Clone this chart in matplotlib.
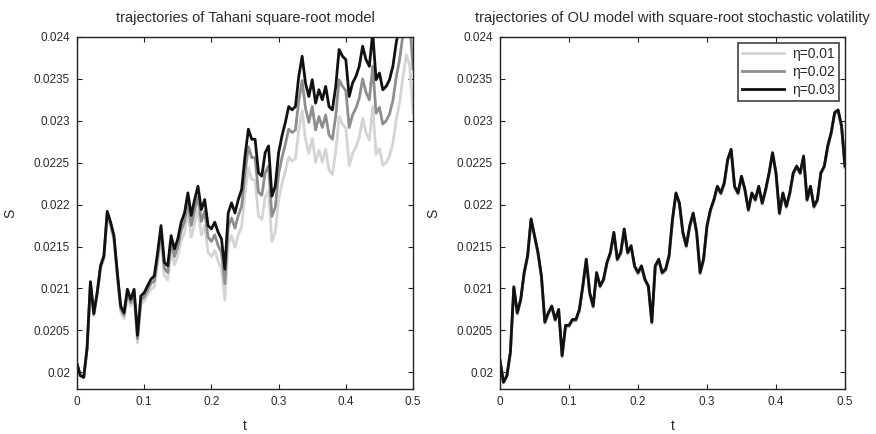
import numpy as np
import matplotlib
matplotlib.use("Agg")
import matplotlib.pyplot as plt

plt.rcParams['font.family'] = ['Liberation Sans', 'DejaVu Sans']

# time grid of the simulated paths
t = np.linspace(0, 0.5, 101)

# Tahani square-root model, one path per eta
tahani_eta01 = [
    0.02010, 0.01995, 0.01993, 0.02027, 0.02106, 0.02067, 0.02092, 0.02123, 0.02135, 0.02187,
    0.02174, 0.02157, 0.02113, 0.02072, 0.02064, 0.02091, 0.02079, 0.02090, 0.02035, 0.02081,
    0.02085, 0.02092, 0.02099, 0.02102, 0.02129, 0.02160, 0.02115, 0.02110, 0.02145, 0.02128,
    0.02139, 0.02157, 0.02167, 0.02189, 0.02161, 0.02178, 0.02193, 0.02164, 0.02175, 0.02143,
    0.02138, 0.02145, 0.02132, 0.02123, 0.02086, 0.02152, 0.02163, 0.02149, 0.02164, 0.02174,
    0.02213, 0.02244, 0.02230, 0.02229, 0.02187, 0.02182, 0.02209, 0.02216, 0.02156, 0.02167,
    0.02206, 0.02225, 0.02240, 0.02257, 0.02252, 0.02255, 0.02289, 0.02312, 0.02278, 0.02261,
    0.02279, 0.02250, 0.02265, 0.02251, 0.02266, 0.02241, 0.02236, 0.02263, 0.02305, 0.02296,
    0.02291, 0.02246, 0.02261, 0.02269, 0.02280, 0.02303, 0.02286, 0.02277, 0.02317, 0.02260,
    0.02267, 0.02247, 0.02250, 0.02258, 0.02273, 0.02301, 0.02322, 0.02352, 0.02379, 0.02366,
    0.02310]
tahani_eta02 = [
    0.02010, 0.01996, 0.01994, 0.02028, 0.02107, 0.02069, 0.02094, 0.02125, 0.02137, 0.02190,
    0.02177, 0.02160, 0.02116, 0.02076, 0.02068, 0.02095, 0.02083, 0.02095, 0.02040, 0.02086,
    0.02090, 0.02098, 0.02106, 0.02109, 0.02137, 0.02168, 0.02124, 0.02119, 0.02155, 0.02138,
    0.02150, 0.02169, 0.02180, 0.02203, 0.02175, 0.02193, 0.02209, 0.02180, 0.02192, 0.02161,
    0.02156, 0.02164, 0.02151, 0.02143, 0.02106, 0.02173, 0.02184, 0.02172, 0.02187, 0.02198,
    0.02238, 0.02269, 0.02256, 0.02256, 0.02215, 0.02211, 0.02238, 0.02246, 0.02186, 0.02197,
    0.02237, 0.02256, 0.02272, 0.02290, 0.02286, 0.02289, 0.02324, 0.02348, 0.02315, 0.02298,
    0.02317, 0.02289, 0.02305, 0.02292, 0.02307, 0.02283, 0.02278, 0.02306, 0.02349, 0.02341,
    0.02336, 0.02292, 0.02307, 0.02315, 0.02327, 0.02350, 0.02334, 0.02325, 0.02365, 0.02309,
    0.02316, 0.02296, 0.02300, 0.02308, 0.02324, 0.02352, 0.02373, 0.02403, 0.02431, 0.02418,
    0.02362]
tahani_eta03 = [
    0.02010, 0.01996, 0.01994, 0.02029, 0.02108, 0.02070, 0.02095, 0.02127, 0.02139, 0.02192,
    0.02179, 0.02163, 0.02119, 0.02079, 0.02071, 0.02099, 0.02087, 0.02099, 0.02044, 0.02091,
    0.02095, 0.02103, 0.02111, 0.02115, 0.02143, 0.02175, 0.02131, 0.02127, 0.02163, 0.02147,
    0.02159, 0.02179, 0.02190, 0.02214, 0.02187, 0.02206, 0.02222, 0.02194, 0.02206, 0.02175,
    0.02171, 0.02179, 0.02167, 0.02159, 0.02123, 0.02190, 0.02202, 0.02190, 0.02206, 0.02218,
    0.02258, 0.02290, 0.02278, 0.02278, 0.02238, 0.02234, 0.02262, 0.02270, 0.02210, 0.02222,
    0.02262, 0.02282, 0.02298, 0.02317, 0.02313, 0.02317, 0.02353, 0.02377, 0.02345, 0.02329,
    0.02349, 0.02321, 0.02337, 0.02325, 0.02341, 0.02317, 0.02313, 0.02341, 0.02385, 0.02377,
    0.02373, 0.02329, 0.02345, 0.02353, 0.02365, 0.02389, 0.02373, 0.02365, 0.02405, 0.02349,
    0.02357, 0.02337, 0.02341, 0.02349, 0.02365, 0.02393, 0.02415, 0.02445, 0.02473, 0.02460,
    0.02405]

# OU model with square-root stochastic volatility
ou_eta01 = [
    0.02014, 0.01988, 0.01995, 0.02022, 0.02100, 0.02069, 0.02085, 0.02117, 0.02137, 0.02181,
    0.02161, 0.02141, 0.02113, 0.02058, 0.02069, 0.02077, 0.02061, 0.02073, 0.02018, 0.02054,
    0.02054, 0.02061, 0.02061, 0.02073, 0.02101, 0.02133, 0.02093, 0.02077, 0.02117, 0.02101,
    0.02109, 0.02129, 0.02141, 0.02165, 0.02133, 0.02141, 0.02169, 0.02141, 0.02149, 0.02125,
    0.02117, 0.02125, 0.02109, 0.02101, 0.02058, 0.02125, 0.02133, 0.02117, 0.02121, 0.02137,
    0.02181, 0.02212, 0.02200, 0.02165, 0.02149, 0.02173, 0.02188, 0.02165, 0.02117, 0.02133,
    0.02173, 0.02192, 0.02204, 0.02220, 0.02212, 0.02224, 0.02252, 0.02264, 0.02220, 0.02212,
    0.02232, 0.02216, 0.02192, 0.02212, 0.02204, 0.02220, 0.02200, 0.02216, 0.02236, 0.02260,
    0.02236, 0.02188, 0.02212, 0.02196, 0.02212, 0.02236, 0.02244, 0.02236, 0.02256, 0.02204,
    0.02220, 0.02196, 0.02204, 0.02236, 0.02244, 0.02268, 0.02284, 0.02308, 0.02311, 0.02292,
    0.02244]
ou_eta02 = [
    0.02014, 0.01988, 0.01996, 0.02023, 0.02101, 0.02070, 0.02086, 0.02118, 0.02138, 0.02182,
    0.02162, 0.02142, 0.02114, 0.02059, 0.02070, 0.02078, 0.02062, 0.02074, 0.02019, 0.02055,
    0.02055, 0.02062, 0.02062, 0.02074, 0.02102, 0.02134, 0.02094, 0.02078, 0.02118, 0.02102,
    0.02110, 0.02130, 0.02142, 0.02166, 0.02134, 0.02142, 0.02170, 0.02142, 0.02150, 0.02126,
    0.02118, 0.02126, 0.02110, 0.02102, 0.02059, 0.02126, 0.02134, 0.02118, 0.02122, 0.02138,
    0.02182, 0.02213, 0.02201, 0.02166, 0.02150, 0.02174, 0.02189, 0.02166, 0.02118, 0.02134,
    0.02174, 0.02193, 0.02205, 0.02221, 0.02213, 0.02225, 0.02253, 0.02265, 0.02221, 0.02213,
    0.02233, 0.02217, 0.02193, 0.02213, 0.02205, 0.02221, 0.02201, 0.02217, 0.02237, 0.02261,
    0.02237, 0.02189, 0.02213, 0.02197, 0.02213, 0.02237, 0.02245, 0.02237, 0.02257, 0.02205,
    0.02221, 0.02197, 0.02205, 0.02237, 0.02245, 0.02269, 0.02285, 0.02309, 0.02312, 0.02293,
    0.02245]
ou_eta03 = [
    0.02014, 0.01988, 0.01996, 0.02024, 0.02102, 0.02071, 0.02087, 0.02119, 0.02139, 0.02183,
    0.02163, 0.02143, 0.02115, 0.02060, 0.02071, 0.02079, 0.02063, 0.02075, 0.02020, 0.02056,
    0.02056, 0.02063, 0.02063, 0.02075, 0.02103, 0.02135, 0.02095, 0.02079, 0.02119, 0.02103,
    0.02111, 0.02131, 0.02143, 0.02167, 0.02135, 0.02143, 0.02171, 0.02143, 0.02151, 0.02127,
    0.02119, 0.02127, 0.02111, 0.02103, 0.02060, 0.02127, 0.02135, 0.02119, 0.02123, 0.02139,
    0.02183, 0.02214, 0.02202, 0.02167, 0.02151, 0.02175, 0.02190, 0.02167, 0.02119, 0.02135,
    0.02175, 0.02194, 0.02206, 0.02222, 0.02214, 0.02226, 0.02254, 0.02266, 0.02222, 0.02214,
    0.02234, 0.02218, 0.02194, 0.02214, 0.02206, 0.02222, 0.02202, 0.02218, 0.02238, 0.02262,
    0.02238, 0.02190, 0.02214, 0.02198, 0.02214, 0.02238, 0.02246, 0.02238, 0.02258, 0.02206,
    0.02222, 0.02198, 0.02206, 0.02238, 0.02246, 0.02270, 0.02286, 0.02310, 0.02313, 0.02294,
    0.02246]

labels = ['\u03b7=0.01', '\u03b7=0.02', '\u03b7=0.03']
colors = ['#d4d4d4', '#8e8e8e', '#111111']
xticks = [0, 0.1, 0.2, 0.3, 0.4, 0.5]
xticklabels = ['0', '0.1', '0.2', '0.3', '0.4', '0.5']
yticks = [0.02, 0.0205, 0.021, 0.0215, 0.022, 0.0225, 0.023, 0.0235, 0.024]
yticklabels = ['0.02', '0.0205', '0.021', '0.0215', '0.022', '0.0225', '0.023', '0.0235', '0.024']

fig = plt.figure(figsize=(8.76, 4.34), dpi=100)
ax1 = fig.add_axes([0.0879, 0.1037, 0.3836, 0.8111])
ax2 = fig.add_axes([0.5708, 0.1037, 0.3938, 0.8111])

txt = '#2a2a2a'
panels = [
    (ax1, [tahani_eta01, tahani_eta02, tahani_eta03], 'trajectories of Tahani square-root model'),
    (ax2, [ou_eta01, ou_eta02, ou_eta03], 'trajectories of OU model with square-root stochastic volatility'),
]
for ax, series, title in panels:
    for s, c, lab in zip(series, colors, labels):
        ax.plot(t, s, color=c, lw=2.0, label=lab)
    ax.set_xlim(0, 0.5)
    ax.set_ylim(0.0198, 0.024)
    ax.set_xticks(xticks)
    ax.set_xticklabels(xticklabels)
    ax.set_yticks(yticks)
    ax.set_yticklabels(yticklabels)
    ax.tick_params(direction='in', top=True, right=True, length=3.5, width=0.8,
                   labelsize=8.5, labelcolor=txt, color='#222222', pad=5)
    for sp in ax.spines.values():
        sp.set_linewidth(1.0)
        sp.set_color('#222222')
    ax.set_title(title, fontsize=10.5, color=txt, pad=11)
    ax.set_xlabel('t', fontsize=10, color=txt, labelpad=8)
    ax.set_ylabel('S', fontsize=10, color=txt, labelpad=12)

leg = ax2.legend(loc='upper right', fontsize=10, frameon=True, fancybox=False,
                 handlelength=3.0, borderpad=0.3, labelspacing=0.3, handletextpad=0.6,
                 borderaxespad=0.4)
leg.get_frame().set_edgecolor('#111111')
leg.get_frame().set_linewidth(1.2)
for txt_item in leg.get_texts():
    txt_item.set_color(txt)

fig.savefig('out.png', dpi=100)
